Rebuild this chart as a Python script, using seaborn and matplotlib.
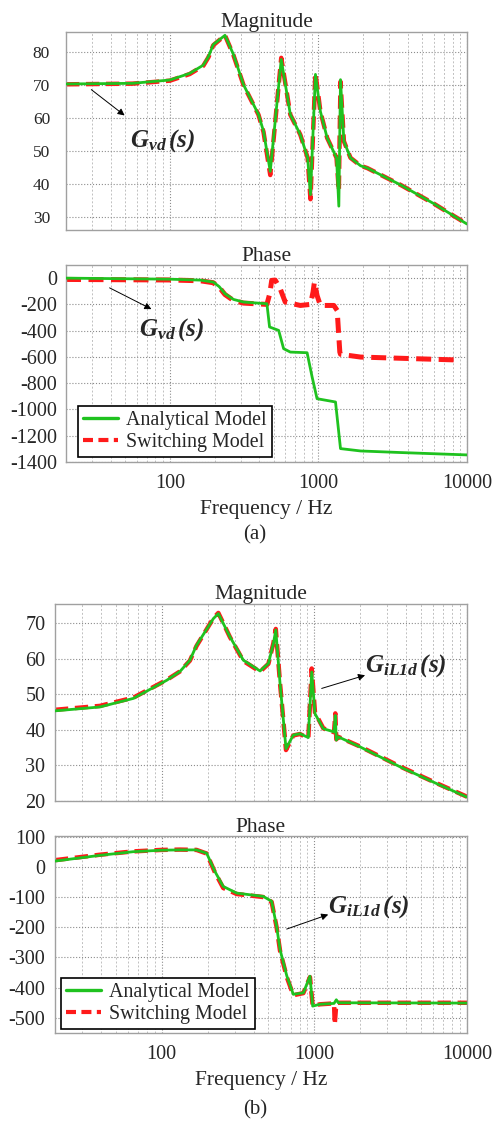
import numpy as np
import pandas as pd
import matplotlib
matplotlib.use("Agg")
import matplotlib.pyplot as plt
from matplotlib.lines import Line2D
import seaborn as sns

# ---- data ----
# (a) G_vd magnitude
fa_mag_ana = [20, 56, 100, 136, 168, 182, 196, 235, 268, 313, 395, 427, 474, 562, 647, 755, 846, 884,
              955, 1031, 1145, 1324, 1372, 1408, 1484, 1644, 1922, 2133, 3580, 6010, 10000]
a_mag_ana = [70.3, 70.5, 71.5, 73.5, 76.0, 78.6, 82.2, 85.0, 79.2, 70.1, 61.1, 56.0, 43.9, 77.7, 61.1, 55.0, 48.0,
             36.9, 73.2, 62.0, 54.0, 48.0, 33.4, 71.6, 53.0, 48.0, 45.6, 44.9, 39.8, 34.1, 28.0]
fa_mag_sw = [20, 56, 100, 136, 168, 182, 196, 235, 268, 313, 395, 427, 474, 562, 647, 755, 846, 884,
             955, 1031, 1145, 1324, 1372, 1408, 1484, 1644, 1922, 2133, 3580, 6010, 10000]
a_mag_sw = [70.2, 70.4, 71.3, 73.3, 75.8, 78.4, 82.0, 85.0, 79.0, 70.0, 61.0, 55.8, 42.8, 78.2, 61.0, 55.0, 48.0,
            35.5, 73.6, 62.0, 54.0, 48.0, 38.0, 71.0, 53.0, 48.0, 45.6, 44.9, 39.8, 34.1, 28.0]

# (a) G_vd phase
fa_ph_ana = [20, 100, 160, 196, 215, 235, 268, 313, 450, 469, 540, 583, 647, 839, 907, 979, 1303, 1408,
             1922, 3580, 10000]
a_ph_ana = [0, -8, -15, -30, -65, -119, -162, -182, -195, -372, -398, -537, -563, -568, -753, -918, -943, -1298,
            -1316, -1328, -1346]
fa_ph_sw = [20, 100, 160, 196, 215, 235, 268, 313, 450, 470, 485, 512, 553, 598, 755, 884, 920, 940, 979,
            1031, 1270, 1337, 1393, 1408, 1922, 9100]
a_ph_sw = [-10, -14, -20, -35, -70, -125, -170, -190, -200, -120, -17, -15, -81, -182, -208, -200, -106, -30, -132,
           -208, -208, -246, -563, -580, -601, -624]

# (b) G_iL1d magnitude
fb_mag_ana = [20, 39.4, 65.2, 108, 132, 153, 169, 218, 235, 280, 343, 441, 500, 539, 559, 596, 652, 728,
              805, 913, 961, 1010, 1145, 1346, 1372, 1393, 1437, 1990, 3640, 6020, 10000]
b_mag_ana = [45.3, 46.4, 48.8, 53.9, 56.4, 59.5, 63.7, 71.2, 72.6, 66.1, 59.5, 56.5, 58.6, 64.2, 68.0, 53.0, 34.7, 38.5,
             38.9, 37.8, 56.2, 44.5, 40.3, 39.4, 44.0, 37.1, 38.0, 35.2, 29.6, 25.3, 21.1]
fb_mag_sw = fb_mag_ana
b_mag_sw = [45.6, 46.7, 49.0, 54.0, 56.4, 59.4, 63.5, 71.3, 72.8, 66.0, 59.3, 56.3, 58.5, 64.3, 68.3, 53.0, 34.3, 38.4,
            38.8, 37.6, 57.2, 44.8, 40.4, 39.3, 44.6, 37.3, 38.0, 35.3, 29.7, 25.4, 21.2]

# (b) G_iL1d phase
fb_ph_ana = [20, 39.4, 65, 100, 132, 169, 197, 223, 253, 310, 463, 525, 566, 596, 660, 728, 847, 936, 975,
             1088, 1346, 1393, 1437, 10000]
b_ph_ana = [19, 38, 50, 55, 56, 56, 45, -15, -65, -87, -98, -114, -197, -274, -361, -422, -417, -362, -461,
            -455, -452, -440, -450, -451]
fb_ph_sw = [20, 39.4, 65, 100, 132, 169, 197, 223, 253, 310, 463, 525, 566, 596, 660, 728, 847, 936, 975,
            1088, 1346, 1360, 1393, 1437, 10000]
b_ph_sw = [22, 40, 51, 56, 57, 56, 44, -18, -70, -90, -100, -116, -200, -278, -365, -425, -418, -365, -460,
           -455, -452, -522, -452, -450, -450]

freq_ticks = [100, 1000, 10000]
mag_a_ticks = [30, 40, 50, 60, 70, 80]
ph_a_ticks = [0, -200, -400, -600, -800, -1000, -1200, -1400]
mag_b_ticks = [20, 30, 40, 50, 60, 70]
ph_b_ticks = [100, 0, -100, -200, -300, -400, -500]

green = "#1fc21f"
red = "#ff1a1a"

sns.set_style("white")
plt.rcParams["font.family"] = ["Liberation Serif", "DejaVu Serif"]
plt.rcParams["mathtext.fontset"] = "custom"
plt.rcParams["mathtext.rm"] = "Liberation Serif"
plt.rcParams["mathtext.it"] = "Liberation Serif:italic"
plt.rcParams["mathtext.bf"] = "Liberation Serif:bold"
plt.rcParams["mathtext.bfit"] = "Liberation Serif:italic:bold"
FS_TICK = 14.5
FS_TITLE = 15.5
FS_LEG = 14.4

fig = plt.figure(figsize=(5.01, 11.22), dpi=100)
W, H = 501, 1122


def add_ax(left, top, right, bottom):
    return fig.add_axes([left / W, 1 - bottom / H, (right - left) / W, (bottom - top) / H])


ax1 = add_ax(66, 32, 467, 230)
ax2 = add_ax(66, 265, 467, 462)
ax3 = add_ax(55, 604, 467, 801)
ax4 = add_ax(55, 836, 467, 1033)


def draw(ax, f_sw, y_sw, f_an, y_an, lw_sw=3.2):
    sns.lineplot(x=f_sw, y=y_sw, ax=ax, color=red, lw=lw_sw, sort=False,
                 linestyle=(0, (3.0, 1.5)), zorder=2)
    sns.lineplot(x=f_an, y=y_an, ax=ax, color=green, lw=2.0, sort=False, zorder=3)


draw(ax1, fa_mag_sw, a_mag_sw, fa_mag_ana, a_mag_ana)
draw(ax2, fa_ph_sw, a_ph_sw, fa_ph_ana, a_ph_ana, lw_sw=3.6)
draw(ax3, fb_mag_sw, b_mag_sw, fb_mag_ana, b_mag_ana)
draw(ax4, fb_ph_sw, b_ph_sw, fb_ph_ana, b_ph_ana)

limits = [(ax1, (26.2, 86), mag_a_ticks, 11.5, 12.5, "Magnitude"),
          (ax2, (-1400, 100), ph_a_ticks, 6.5, FS_TICK, "Phase"),
          (ax3, (20, 75.3), mag_b_ticks, 7, FS_TICK, "Magnitude"),
          (ax4, (-550, 102), ph_b_ticks, 7, FS_TICK, "Phase")]

for ax, ylim, yt, pad, yfs, title in limits:
    ax.set_xscale("log")
    ax.set_xlim(20, 10000)
    ax.set_ylim(*ylim)
    ax.set_yticks(yt)
    ax.set_yticklabels([str(v) for v in yt], fontsize=yfs)
    ax.set_xticks(freq_ticks)
    ax.grid(which="major", ls=":", color="#8c8c8c", lw=0.8)
    ax.grid(which="minor", axis="x", ls=(0, (2, 2)), color="#c0c0c0", lw=0.7)
    ax.tick_params(axis="both", which="both", length=0)
    ax.tick_params(axis="y", pad=pad)
    ax.tick_params(axis="x", pad=8.5, labelsize=FS_TICK)
    for s in ax.spines.values():
        s.set_color("#a0a0a0")
        s.set_linewidth(1.0)
    ax.set_title(title, fontsize=FS_TITLE, pad=3)
    ax.set_xlabel("")
    ax.set_ylabel("")

for ax in (ax1, ax3):
    ax.set_xticklabels([])
for ax in (ax2, ax4):
    ax.set_xticklabels([str(v) for v in freq_ticks])
    ax.set_xlabel("Frequency / Hz", fontsize=FS_TITLE, labelpad=5)

# annotations
arr = dict(arrowstyle="-|>", color="black", lw=0.7, mutation_scale=10, shrinkA=0, shrinkB=0)
gvd = r"$\mathbfit{G}_{\mathbfit{vd}}\,\mathbfit{(s)}$"
gil = r"$\mathbfit{G}_{\mathbfit{iL1d}}\,\mathbfit{(s)}$"
ax1.annotate("", xy=(49.6, 60.8), xytext=(29.6, 68.6), arrowprops=arr)
ax1.text(53.7, 53.2, gvd, fontsize=18, ha="left", va="center")
ax2.annotate("", xy=(75.2, -236), xytext=(39.3, -74), arrowprops=arr)
ax2.text(62.0, -388, gvd, fontsize=18, ha="left", va="center")
ax3.annotate("", xy=(2149, 55.3), xytext=(1117, 51.6), arrowprops=arr)
ax3.text(2149, 58.1, gil, fontsize=18, ha="left", va="center")
ax4.annotate("", xy=(1233, -158), xytext=(659, -206), arrowprops=arr)
ax4.text(1233, -133, gil, fontsize=18, ha="left", va="center")

handles = [Line2D([], [], color=green, lw=2.4),
           Line2D([], [], color=red, lw=3.0, linestyle=(0, (2.4, 1.3)))]
names = ["Analytical Model", "Switching Model"]
for ax, anchor in ((ax2, (0.03, 0.025)), (ax4, (0.015, 0.02))):
    leg = ax.legend(handles, names, loc="lower left", bbox_to_anchor=anchor, borderaxespad=0,
                    fontsize=FS_LEG, frameon=True, fancybox=False, framealpha=1, edgecolor="black",
                    handlelength=1.75, handletextpad=0.4, labelspacing=0.15, borderpad=0.25)
    leg.get_frame().set_linewidth(1.2)

fig.text(255 / W, 1 - 535 / H, "(a)", fontsize=15, ha="center", va="center")
fig.text(255 / W, 1 - 1110 / H, "(b)", fontsize=15, ha="center", va="center")

fig.savefig("out.png", dpi=100)
